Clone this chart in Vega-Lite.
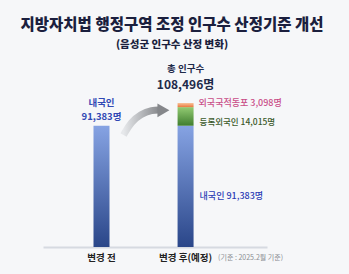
{
  "$schema": "https://vega.github.io/schema/vega-lite/v6.json",
  "width": 224,
  "height": 185,
  "autosize": {"type": "none"},
  "padding": {"left": 43, "top": 62, "right": 82, "bottom": 27},
  "background": "#f6f7f9",
  "config": {"view": {"stroke": null}, "font": "Noto Sans CJK KR"},
  "title": {
    "text": "지방자치법 행정구역 조정 인구수 산정기준 개선",
    "subtitle": "(음성군 인구수 산정 변화)",
    "anchor": "middle",
    "dx": 17,
    "offset": 12,
    "fontSize": 15.5,
    "fontWeight": 900,
    "color": "#1b1f3e",
    "font": "Noto Sans CJK KR",
    "subtitleFont": "Noto Sans CJK KR",
    "subtitleFontSize": 10.5,
    "subtitleFontWeight": 900,
    "subtitleColor": "#1b1f3e",
    "subtitlePadding": 6
  },
  "datasets": {
    "bars": [
      {"group": "변경 전", "pos": 3.5, "segment": "내국인", "start": 0, "end": 91383, "count": "91,383명", "label": "내국인 91,383명"},
      {"group": "변경 후(예정)", "pos": 9, "segment": "내국인", "start": 0, "end": 91383, "count": "91,383명", "label": "내국인 91,383명"},
      {"group": "변경 후(예정)", "pos": 9, "segment": "등록외국인", "start": 91383, "end": 105398, "count": "14,015명", "label": "등록외국인 14,015명"},
      {"group": "변경 후(예정)", "pos": 9, "segment": "외국국적동포", "start": 105398, "end": 108496, "count": "3,098명", "label": "외국국적동포 3,098명"}
    ],
    "arrow": [
      {"x": 4.94, "y": 84400, "o": 1},
      {"x": 5.44, "y": 94190, "o": 2},
      {"x": 6.06, "y": 100220, "o": 3},
      {"x": 6.81, "y": 103230, "o": 4},
      {"x": 7.31, "y": 103230, "o": 5}
    ]
  },
  "encoding": {
    "x": {"field": "pos", "type": "quantitative", "scale": {"domain": [0, 14]}, "axis": {"labels": false, "ticks": false, "grid": false, "title": null, "domain": true, "domainColor": "#d6dae1", "domainWidth": 2}},
    "y": {"field": "end", "type": "quantitative", "scale": {"domain": [0, 139400]}, "axis": null}
  },
  "layer": [
    {
      "data": {"name": "bars"},
      "transform": [{"filter": "datum.segment == '내국인'"}],
      "mark": {"type": "bar", "size": 16, "color": {"gradient": "linear", "x1": 0, "y1": 0, "x2": 0, "y2": 1, "stops": [{"offset": 0, "color": "#86a3e3"}, {"offset": 1, "color": "#2a4689"}]}},
      "encoding": {"y2": {"field": "start"}}
    },
    {
      "data": {"name": "bars"},
      "transform": [{"filter": "datum.segment == '등록외국인'"}],
      "mark": {"type": "bar", "size": 16, "color": {"gradient": "linear", "x1": 0, "y1": 0, "x2": 0, "y2": 1, "stops": [{"offset": 0, "color": "#93cb73"}, {"offset": 1, "color": "#3f7d2f"}]}},
      "encoding": {"y2": {"field": "start"}}
    },
    {
      "data": {"name": "bars"},
      "transform": [{"filter": "datum.segment == '외국국적동포'"}],
      "mark": {"type": "bar", "size": 16, "color": {"gradient": "linear", "x1": 0, "y1": 0, "x2": 0, "y2": 1, "stops": [{"offset": 0, "color": "#f8c39a"}, {"offset": 1, "color": "#e9773d"}]}},
      "encoding": {"y2": {"field": "start"}}
    },
    {
      "data": {"name": "arrow"},
      "mark": {"type": "line", "interpolate": "basis", "strokeWidth": 7, "strokeCap": "butt", "stroke": {"gradient": "linear", "x1": 0, "y1": 0, "x2": 1, "y2": 0, "stops": [{"offset": 0, "color": "#e6e8eb"}, {"offset": 1, "color": "#85878b"}]}},
      "encoding": {"x": {"field": "x", "type": "quantitative"}, "y": {"field": "y", "type": "quantitative"}, "order": {"field": "o"}}
    },
    {
      "data": {"values": [{"x": 7.55, "y": 103000}]},
      "mark": {"type": "point", "shape": "triangle-right", "size": 190, "filled": true, "color": "#85878b", "opacity": 1},
      "encoding": {"x": {"field": "x", "type": "quantitative"}, "y": {"field": "y", "type": "quantitative"}}
    },
    {
      "data": {"values": [{"label": "17,113명증가", "increase": 17113}]},
      "mark": {"type": "point", "shape": "M -0.746 -0.254 L 0.746 -0.254 A 0.254 0.254 0 0 1 0.746 0.254 L -0.746 0.254 A 0.254 0.254 0 0 1 -0.746 -0.254 Z", "size": 3481, "filled": true, "fill": "#1c2b5c", "stroke": "#b8cae6", "strokeWidth": 1, "opacity": 1},
      "encoding": {"x": {"datum": 6.25}, "y": {"datum": 72000}}
    },
    {
      "data": {"values": [{"label": "17,113명증가", "increase": 17113}]},
      "mark": {"type": "text", "fontSize": 8, "fontWeight": "bold", "color": "#ffffff", "baseline": "middle"},
      "encoding": {"x": {"datum": 6.25}, "y": {"datum": 72000}, "text": {"field": "label"}}
    },
    {
      "data": {"name": "bars"},
      "transform": [{"filter": "datum.group == '변경 전'"}],
      "mark": {"type": "text", "fontSize": 9.5, "fontWeight": "bold", "color": "#3148b4", "baseline": "middle", "dy": -23},
      "encoding": {"text": {"field": "segment"}}
    },
    {
      "data": {"name": "bars"},
      "transform": [{"filter": "datum.group == '변경 전'"}],
      "mark": {"type": "text", "fontSize": 9.5, "fontWeight": "bold", "color": "#3148b4", "baseline": "middle", "dy": -9},
      "encoding": {"text": {"field": "count"}}
    },
    {
      "data": {"name": "bars"},
      "transform": [{"filter": "datum.segment == '외국국적동포'"}],
      "mark": {"type": "text", "fontSize": 9.5, "fontWeight": "bold", "color": "#1e2a4a", "baseline": "middle", "dy": -34, "text": "총 인구수"},
      "encoding": {}
    },
    {
      "data": {"name": "bars"},
      "transform": [{"filter": "datum.segment == '외국국적동포'"}],
      "mark": {"type": "text", "fontSize": 12, "fontWeight": "bold", "color": "#1e2a4a", "baseline": "middle", "dy": -18, "text": "108,496명"},
      "encoding": {}
    },
    {
      "data": {"name": "bars"},
      "transform": [{"filter": "datum.segment == '외국국적동포'"}],
      "mark": {"type": "text", "fontSize": 9, "fontWeight": 500, "color": "#c94d88", "baseline": "middle", "align": "left", "dx": 13, "dy": 0},
      "encoding": {"text": {"field": "label"}}
    },
    {
      "data": {"name": "bars"},
      "transform": [{"filter": "datum.segment == '등록외국인'"}],
      "mark": {"type": "text", "fontSize": 8.5, "fontWeight": 500, "color": "#3b5a2b", "baseline": "middle", "align": "left", "dx": 14, "dy": 15},
      "encoding": {"text": {"field": "label"}}
    },
    {
      "data": {"name": "bars"},
      "transform": [{"filter": "datum.segment == '내국인' && datum.group == '변경 후(예정)'"}],
      "mark": {"type": "text", "fontSize": 9, "fontWeight": 500, "color": "#2b3cb5", "baseline": "middle", "align": "left", "dx": 14, "dy": 70},
      "encoding": {"text": {"field": "label"}}
    },
    {
      "data": {"name": "bars"},
      "transform": [{"filter": "datum.segment == '내국인'"}],
      "mark": {"type": "text", "fontSize": 9.5, "fontWeight": "bold", "color": "#222222", "baseline": "middle", "dy": 10.5},
      "encoding": {"y": {"datum": 0}, "text": {"field": "group"}}
    },
    {
      "data": {"name": "bars"},
      "transform": [{"filter": "datum.segment == '외국국적동포'"}],
      "mark": {"type": "text", "fontSize": 7, "color": "#8a8d93", "baseline": "middle", "dx": 65, "dy": 10.5, "text": "(기준 : 2025.2월  기준)"},
      "encoding": {"y": {"datum": 0}}
    }
  ]
}
